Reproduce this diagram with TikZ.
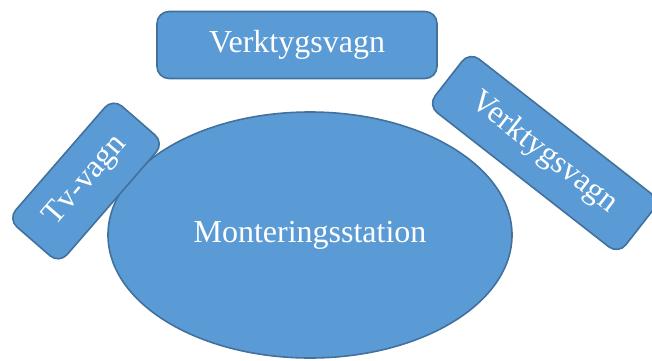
\documentclass[tikz,border=0pt]{standalone}
\usepackage{fontspec}
\setmainfont{Liberation Serif}
\usetikzlibrary{shapes.geometric}
\definecolor{boxfill}{HTML}{5B9BD5}
\definecolor{boxline}{HTML}{41719C}
\tikzset{
  shapebase/.style={fill=boxfill, draw=boxline, line width=1.6pt, text=white,
    font=\fontsize{32}{32}\selectfont, inner sep=0pt},
  cartbox/.style={shapebase, rectangle, rounded corners=12pt},
  stationshape/.style={shapebase, ellipse}
}
\begin{document}
\begin{tikzpicture}[x=1pt,y=-1pt]
\useasboundingbox (0,0) rectangle (652,360);
\clip (0,0) rectangle (652,360);
\node[stationshape, minimum width=404pt, minimum height=246pt] (station) at (310,235) {\raisebox{-3pt}{Monteringsstation}};
\node[cartbox, minimum width=280pt, minimum height=67pt] (top) at (297,45) {\raisebox{-2pt}{Verktygsvagn}};
\node[cartbox, minimum width=242pt, minimum height=68pt, rotate=-38] (right) at (544,153) {Verktygsvagn};
\node[cartbox, minimum width=160pt, minimum height=68pt, rotate=49] (left) at (86,181) {Tv-vagn};
\end{tikzpicture}
\end{document}
